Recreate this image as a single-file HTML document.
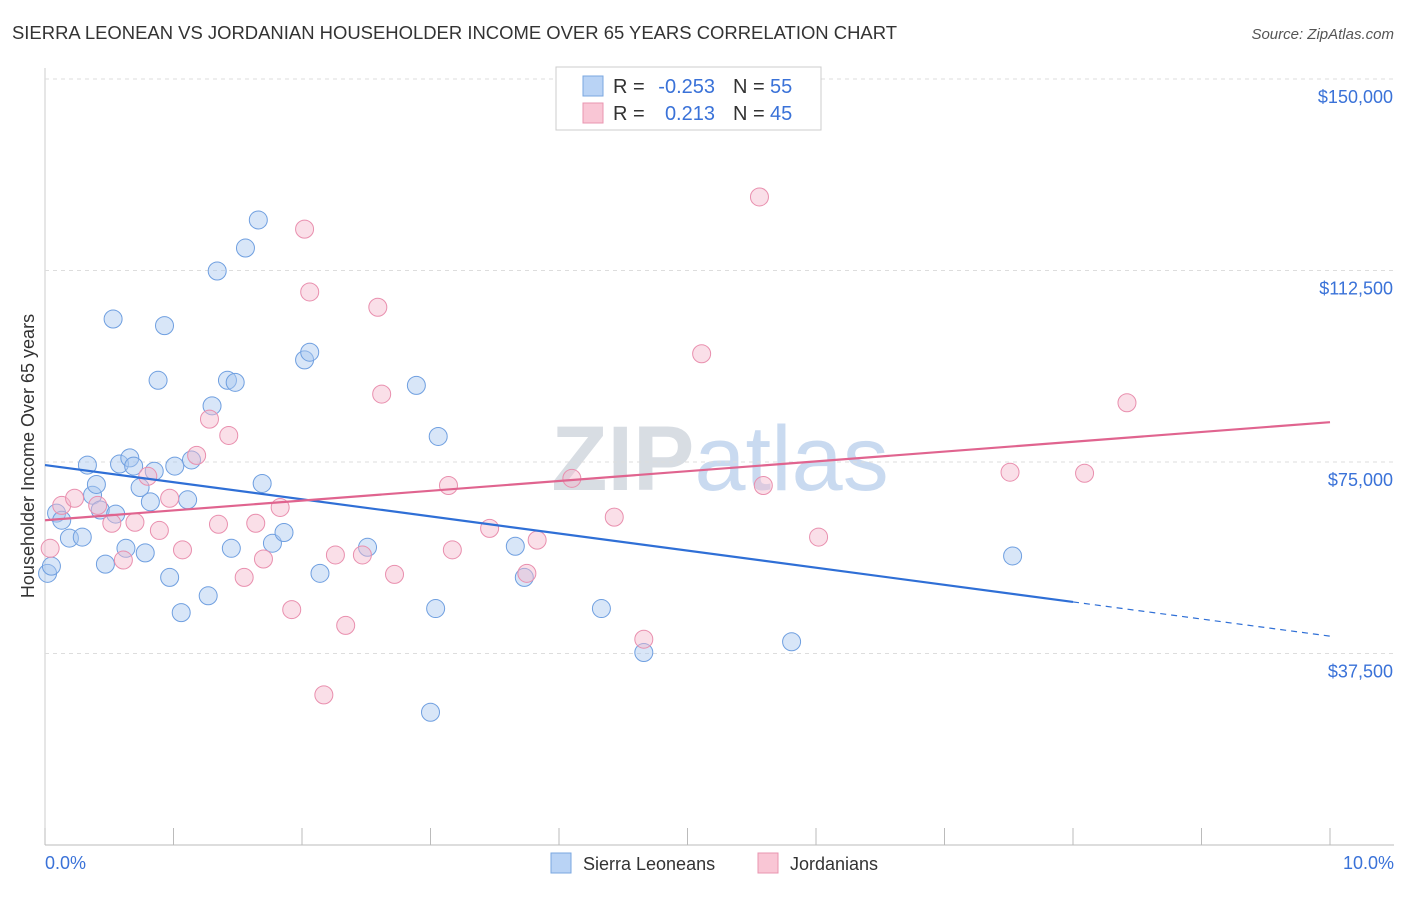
<!DOCTYPE html>
<html><head><meta charset="utf-8"><style>
body{margin:0;background:#fff;font-family:"Liberation Sans",sans-serif}
svg text{font-family:"Liberation Sans",sans-serif}
</style></head><body>
<svg id="c" width="1406" height="892" xmlns="http://www.w3.org/2000/svg">
<text x="12" y="39" font-size="18" fill="#333" textLength="885" lengthAdjust="spacingAndGlyphs">SIERRA LEONEAN VS JORDANIAN HOUSEHOLDER INCOME OVER 65 YEARS CORRELATION CHART</text>
<text x="1394" y="39" font-size="15" fill="#555" font-style="italic" text-anchor="end">Source: ZipAtlas.com</text>
<text x="720" y="490" font-size="92" fill="#dde3ea" text-anchor="middle" font-family="Liberation Serif"><tspan font-weight="bold" fill="#d8dde3">ZIP</tspan><tspan fill="#c9daf0" font-family="Liberation Sans">atlas</tspan></text>
<g id="grid"></g>
<g id="pts"></g>
<text transform="translate(34,456) rotate(-90)" font-size="18" fill="#333" text-anchor="middle">Householder Income Over 65 years</text>
<text x="45" y="869" font-size="18" fill="#3a72d8">0.0%</text>
<text x="1394" y="869" font-size="18" fill="#3a72d8" text-anchor="end">10.0%</text>
<g>
<rect x="556" y="67" width="265" height="63" fill="#fff" stroke="#ccc"/>
<rect x="583" y="76" width="20" height="20" fill="#b9d3f5" stroke="#7aa7e0"/>
<rect x="583" y="103" width="20" height="20" fill="#f9c6d5" stroke="#e995b0"/>
<text x="613" y="93" font-size="20" fill="#333">R =</text>
<text x="715" y="93" font-size="20" fill="#3a72d8" text-anchor="end">-0.253</text>
<text x="733" y="93" font-size="20" fill="#333">N =</text>
<text x="770" y="93" font-size="20" fill="#3a72d8">55</text>
<text x="613" y="120" font-size="20" fill="#333">R =</text>
<text x="715" y="120" font-size="20" fill="#3a72d8" text-anchor="end">0.213</text>
<text x="733" y="120" font-size="20" fill="#333">N =</text>
<text x="770" y="120" font-size="20" fill="#3a72d8">45</text>
</g>
<g>
<rect x="551" y="853" width="20" height="20" fill="#b9d3f5" stroke="#7aa7e0"/>
<text x="583" y="870" font-size="18" fill="#333">Sierra Leoneans</text>
<rect x="758" y="853" width="20" height="20" fill="#f9c6d5" stroke="#e995b0"/>
<text x="790" y="870" font-size="18" fill="#333">Jordanians</text>
</g>
</svg>
<script>
const yTicks=[37500,75000,112500,150000];
const yTickLabels=["$37,500","$75,000","$112,500","$150,000"];
const xTicks=[0,1,2,3,4,5,6,7,8,9,10];
const blueX=[0.02,0.05,0.09,0.13,0.19,0.29,0.33,0.37,0.40,0.43,0.47,0.53,0.55,0.58,0.63,0.66,0.69,0.74,0.78,0.82,0.85,0.88,0.93,0.97,1.01,1.06,1.11,1.14,1.27,1.30,1.34,1.42,1.45,1.48,1.56,1.66,1.69,1.77,1.86,2.02,2.06,2.14,2.51,2.89,3.00,3.04,3.06,3.66,3.73,4.33,4.66,5.81,7.53];
const blueY=[53200,54600,65000,63600,60100,60300,74400,68500,70600,65600,55000,103000,64800,74600,58100,75800,74200,70000,57200,67200,73200,91000,101700,52400,74200,45500,67600,75400,48800,86000,112400,91000,58100,90600,116900,122400,70800,59100,61200,95000,96500,53200,58300,90000,26000,46300,80000,58500,52400,46300,37700,39800,56600];
const pinkX=[0.04,0.13,0.23,0.41,0.52,0.61,0.70,0.80,0.89,0.97,1.07,1.18,1.28,1.35,1.43,1.55,1.64,1.70,1.83,1.92,2.02,2.06,2.17,2.26,2.34,2.47,2.59,2.62,2.72,3.14,3.17,3.46,3.75,3.83,4.10,4.43,4.66,5.11,5.56,5.59,6.02,7.51,8.09,8.42];
const pinkY=[58100,66500,67900,66500,63000,55800,63200,72200,61600,67900,57800,76300,83400,62800,80200,52400,63000,56000,66100,46100,120600,108300,29400,56800,43000,56800,105300,88300,53000,70400,57800,62000,53200,59700,71800,64200,40300,96200,126900,70400,60300,73000,72800,86600];
const blueTrend=[74400,40900];
const pinkTrend=[63600,82800];
const X=v=>45+v*128.5, Y=v=>845-v/150000*766;
const NS="http://www.w3.org/2000/svg";
const grid=document.getElementById('grid'),pts=document.getElementById('pts');
function mk(tag,at,p){const e=document.createElementNS(NS,tag);for(const k in at)e.setAttribute(k,at[k]);p.appendChild(e);return e;}
let ax=mk('line',{x1:45,y1:68,x2:45,y2:845,stroke:'#ccc'},grid);


let bx=mk('line',{x1:45,y1:845,x2:1394,y2:845,stroke:'#bbb'},grid);


yTicks.forEach((t,i)=>{
 let l=mk('line',{x1:45,x2:1394,y1:Y(t),y2:Y(t),stroke:'#ddd','stroke-dasharray':'4,4'},grid);
 
 
 let tx=mk('text',{x:1393,y:Y(t)+24,'font-size':18,fill:'#3a72d8','text-anchor':'end'},grid);tx.textContent=yTickLabels[i];
 
 
});
xTicks.forEach(t=>{
 let l=mk('line',{x1:X(t),x2:X(t),y1:828,y2:845,stroke:'#bbb'},grid);
 
 
});
function dots(xs,ys,fill,stroke,name){xs.forEach((x,i)=>{
 let c=mk('circle',{cx:X(x),cy:Y(ys[i]),r:9,fill:fill,'fill-opacity':0.45,stroke:stroke,'stroke-width':1},pts);
 
 
});}
dots(blueX,blueY,'#a9c8f0','#6f9fe0','sierra-leonean-point');
dots(pinkX,pinkY,'#f5b8cb','#e98fae','jordanian-point');
const bAt=x=>blueTrend[0]+(blueTrend[1]-blueTrend[0])*x/10;
let b1=mk('line',{x1:X(0),y1:Y(bAt(0)),x2:X(8),y2:Y(bAt(8)),stroke:'#2f6fd6','stroke-width':2.2},pts);


let b2=mk('line',{x1:X(8),y1:Y(bAt(8)),x2:X(10),y2:Y(bAt(10)),stroke:'#2f6fd6','stroke-width':1.2,'stroke-dasharray':'6,5'},pts);


let p1=mk('line',{x1:X(0),y1:Y(pinkTrend[0]),x2:X(10),y2:Y(pinkTrend[1]),stroke:'#e0648f','stroke-width':2.2},pts);


</script>
</body></html>
